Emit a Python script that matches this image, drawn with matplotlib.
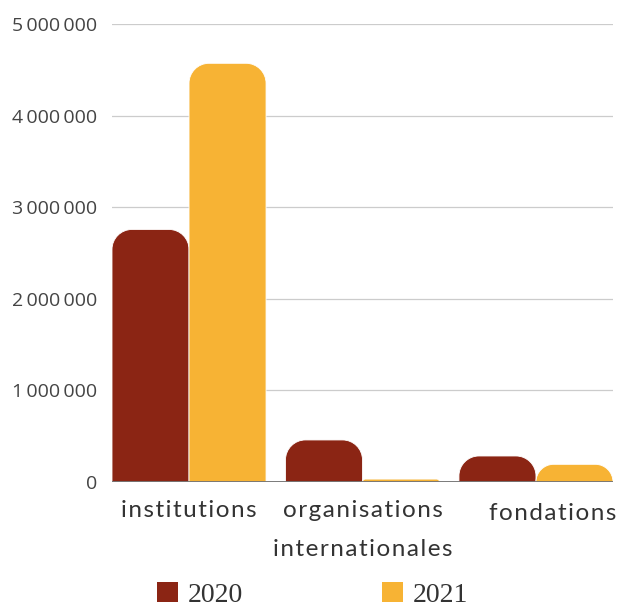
import matplotlib
matplotlib.use("Agg")
import matplotlib.pyplot as plt
from matplotlib.path import Path
from matplotlib.patches import PathPatch, Patch
from matplotlib.transforms import ScaledTranslation
import numpy as np

categories = ["institutions", "organisations\ninternationales", "fondations"]
series_names = ["2020", "2021"]
values_2020 = [2757000, 459000, 284000]
values_2021 = [4571000, 32000, 193000]
colors = ["#8b2514", "#f7b334"]
yticks = [0, 1000000, 2000000, 3000000, 4000000, 5000000]

W, H, DPI = 618, 603, 100
fig = plt.figure(figsize=(W / DPI, H / DPI), dpi=DPI)
ax = fig.add_axes([112 / W, 1 - 482 / H, (613 - 112) / W, (482 - 24) / H])

x = np.arange(len(categories))
bw = 0.444
ax.set_xlim(-bw, len(categories) - 1 + bw)
ax.set_ylim(0, 5000000)

px_x = (613 - 112) / (ax.get_xlim()[1] - ax.get_xlim()[0])
px_y = (482 - 24) / 5000000
R = 20  # corner radius in px


def rounded_bar(ax, x0, w, h, color):
    r = min(R, h * px_y)
    ry = r / px_y
    rx = r / px_x
    k = 0.5523
    x1 = x0 + w
    verts = [
        (x0, 0), (x0, h - ry),
        (x0, h - ry + k * ry), (x0 + rx - k * rx, h), (x0 + rx, h),
        (x1 - rx, h),
        (x1 - rx + k * rx, h), (x1, h - ry + k * ry), (x1, h - ry),
        (x1, 0), (x0, 0),
    ]
    codes = [Path.MOVETO, Path.LINETO,
             Path.CURVE4, Path.CURVE4, Path.CURVE4,
             Path.LINETO,
             Path.CURVE4, Path.CURVE4, Path.CURVE4,
             Path.LINETO, Path.CLOSEPOLY]
    ax.add_patch(PathPatch(Path(verts, codes), facecolor=color,
                           edgecolor="white", linewidth=0.6, zorder=3))


for i in range(len(categories)):
    rounded_bar(ax, x[i] - bw, bw, values_2020[i], colors[0])
    rounded_bar(ax, x[i], bw, values_2021[i], colors[1])

for t in yticks[1:]:
    ax.axhline(t, color="#cccccc", linewidth=0.9, zorder=1)
ax.axhline(0, color="#707070", linewidth=1.3, zorder=4)

for s in ax.spines.values():
    s.set_visible(False)

ax.set_yticks(yticks)
ax.set_yticklabels([f"{v:,}".replace(",", "\u2009") for v in yticks],
                   fontfamily=["Open Sans", "DejaVu Sans"], fontsize=14,
                   color="#444444")
ax.tick_params(axis="y", length=0, pad=10.5)


def spaced(s):
    return "\n".join("\u200a".join(line) for line in s.split("\n"))


ax.set_xticks(x)
ax.set_xticklabels([spaced(c) for c in categories],
                   fontfamily=["Lato", "DejaVu Sans"], fontsize=17.5,
                   color="#333333", linespacing=2.05)
ax.tick_params(axis="x", length=0, pad=13)
labs = ax.get_xticklabels()
labs[2].set_transform(labs[2].get_transform() +
                      ScaledTranslation(12 / 72, -2 / 72, fig.dpi_scale_trans))

handles = [Patch(facecolor=c, edgecolor="none") for c in colors]
leg = fig.legend(handles, series_names, loc="center left",
                 bbox_to_anchor=(157 / W, 1 - 595 / H), ncol=2,
                 frameon=False, handlelength=0.75, handleheight=0.75,
                 handletextpad=0.36, columnspacing=5.0,
                 borderpad=0, borderaxespad=0,
                 prop={"family": "Liberation Serif", "size": 20})
for t in leg.get_texts():
    t.set_color("#333333")

fig.savefig("out.png", dpi=DPI)
